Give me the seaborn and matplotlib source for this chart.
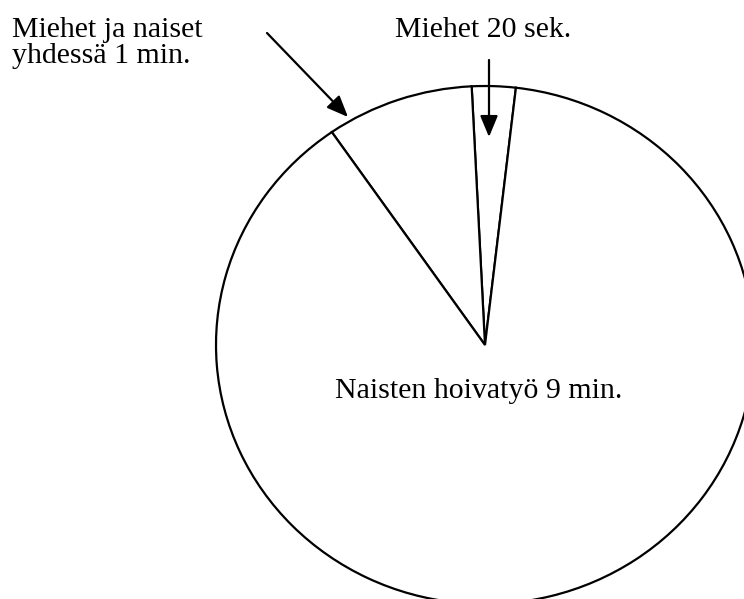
import matplotlib
matplotlib.use("Agg")
import matplotlib.pyplot as plt
import seaborn as sns

# Data (shares; seconds of care work per slice)
categories = ["Miehet", "Miehet ja naiset yhdessä", "Naisten hoivatyö"]
seconds = [16, 54, 540]
label_lines = [["Miehet 20 sek."],
               ["Miehet ja naiset", "yhdessä 1 min."],
               ["Naisten hoivatyö 9 min."]]

W, H = 744, 599
sns.set_theme(style="white")
plt.rcParams["font.family"] = ["Liberation Serif", "DejaVu Serif"]

fig = plt.figure(figsize=(W / 100, H / 100), dpi=100)
ax = fig.add_axes([0, 0, 1, 1])
ax.pie(seconds, startangle=83.4, counterclock=True,
       colors=["white"] * len(seconds),
       wedgeprops=dict(edgecolor="black", linewidth=1.6),
       radius=1, center=(0, 0), frame=False)
ax.set_aspect("auto")
cx, cy, a, b = 485, 345, 269, 259
ax.set_xlim((0 - cx) / a, (W - cx) / a)
ax.set_ylim((cy - H) / b, (cy - 0) / b)
ax.axis("off")

def fp(x, y):
    return (x, H - y)

fs = 21.5
def put(x, y, s):
    fig.text(x / W, 1 - y / H, s, ha="left", va="baseline", fontsize=fs, color="black")

put(395, 37, label_lines[0][0])
put(12, 37, label_lines[1][0])
put(12, 63, label_lines[1][1])
put(335, 398, label_lines[2][0])

arrow = dict(arrowstyle="-|>,head_length=0.65,head_width=0.27", color="black",
             lw=1.6, shrinkA=0, shrinkB=0, mutation_scale=20)
ax.annotate("", xy=fp(348, 117), xytext=fp(267, 33), xycoords="figure pixels",
            textcoords="figure pixels", arrowprops=arrow)
ax.annotate("", xy=fp(489, 137), xytext=fp(489, 60), xycoords="figure pixels",
            textcoords="figure pixels", arrowprops=arrow)

fig.savefig("out.png", dpi=100, facecolor="white")
